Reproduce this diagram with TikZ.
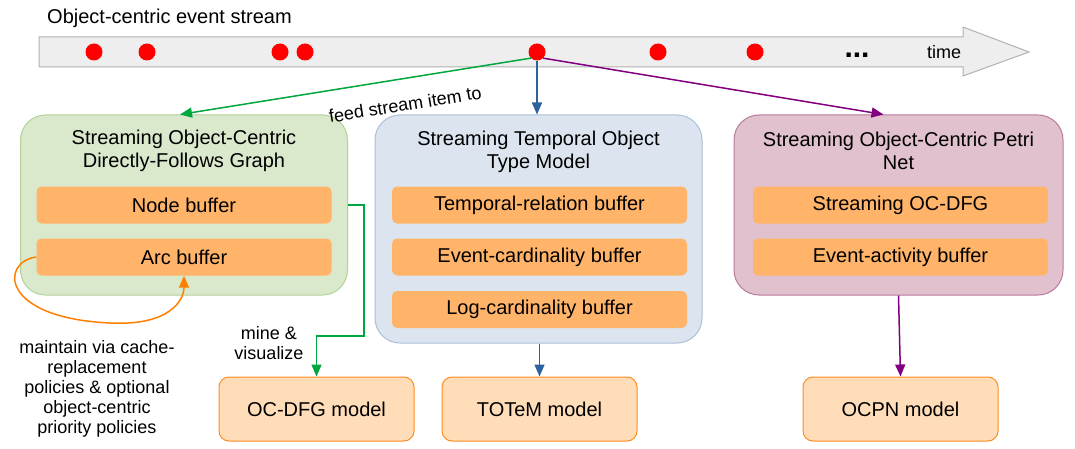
\documentclass[tikz,border=0pt]{standalone}
\usepackage{fontspec}
\setmainfont{Liberation Sans}
\usetikzlibrary{arrows.meta}

\definecolor{streamfill}{RGB}{238,238,238}
\definecolor{streamedge}{RGB}{178,178,178}
\definecolor{dfgfill}{RGB}{218,232,204}
\definecolor{dfgedge}{RGB}{178,210,150}
\definecolor{totfill}{RGB}{220,229,239}
\definecolor{totedge}{RGB}{170,192,216}
\definecolor{pnfill}{RGB}{224,193,205}
\definecolor{pnedge}{RGB}{185,122,158}
\definecolor{bufferorange}{RGB}{255,180,105}
\definecolor{modelfill}{RGB}{255,221,185}
\definecolor{modeledge}{RGB}{255,140,30}
\definecolor{feedgreen}{RGB}{0,166,62}
\definecolor{feedblue}{RGB}{45,98,158}
\definecolor{feedpurple}{RGB}{128,0,128}
\definecolor{loopcol}{RGB}{255,128,0}

\tikzstyle{group} = [draw, rounded corners=25pt, line width=1pt, minimum width=327pt]
\tikzstyle{title} = [align=center, font=\fontsize{20}{23}\selectfont]
\tikzstyle{buffer} = [fill=bufferorange, rounded corners=5pt, minimum width=295pt, minimum height=37pt, inner sep=0pt, font=\fontsize{20}{23}\selectfont]
\tikzstyle{model} = [draw=modeledge, fill=modelfill, rounded corners=10pt, line width=1pt, minimum width=195pt, minimum height=64pt, font=\fontsize{20}{23}\selectfont]
\tikzstyle{event} = [circle, fill=red, inner sep=0pt, minimum size=17pt]
\tikzstyle{note} = [align=center, font=\fontsize{18}{20}\selectfont]
\tikzstyle{flow} = [line width=1.5pt, -{Triangle[length=12pt,width=10pt]}]

\begin{document}
\begin{tikzpicture}[x=1pt, y=-1pt]
  \useasboundingbox [fill=white] (0,0) rectangle (1075,449);

  % event stream
  \node (streamtitle) at (47,24) [anchor=base west, inner sep=0pt, font=\fontsize{20}{23}\selectfont] {Object-centric event stream};
  \draw [fill=streamfill, draw=streamedge, line width=1pt]
    (39,37) -- (963,37) -- (963,27) -- (1029,52) -- (963,76) -- (963,67) -- (39,67) -- cycle;
  \node (e1) at ( 94,52) [event] {};
  \node (e2) at (147,52) [event] {};
  \node (e3) at (280,52) [event] {};
  \node (e4) at (305,52) [event] {};
  \node (e5) at (537,52) [event] {};
  \node (e6) at (658,52) [event] {};
  \node (e7) at (755,52) [event] {};
  \node (dots) at (857,58) [anchor=base, inner sep=0pt, font=\fontsize{30}{30}\selectfont] {\textbf{...}};
  \node (time) at (944,59) [anchor=base, inner sep=0pt, font=\fontsize{18}{20}\selectfont] {time};

  % streaming representations
  \node (dfg) at (184,205) [group, draw=dfgedge, fill=dfgfill, minimum height=180pt] {};
  \node (tot) at (538.5,229) [group, draw=totedge, fill=totfill, minimum height=228pt] {};
  \node (pn) at (898.5,205) [group, draw=pnedge, fill=pnfill, minimum width=329pt, minimum height=180pt] {};

  \node (dfgtitle) at (184,151) [title] {Streaming Object-Centric\\Directly-Follows Graph};
  \node (tottitle) at (538.5,152) [title] {Streaming Temporal Object\\Type Model};
  \node (pntitle) at (898.5,151) [title] {Streaming Object-Centric Petri\\Net};

  \node (nodebuf) at (184,205) [buffer] {Node buffer};
  \node (arcbuf) at (184,257) [buffer] {Arc buffer};
  \node (relbuf) at (539.5,205) [buffer] {Temporal-relation buffer};
  \node (evcard) at (539.5,257) [buffer] {Event-cardinality buffer};
  \node (logcard) at (539.5,309.5) [buffer] {Log-cardinality buffer};
  \node (sdfg) at (900.5,205) [buffer] {Streaming OC-DFG};
  \node (evact) at (900.5,257) [buffer] {Event-activity buffer};

  % models
  \node (ocdfg) at (316.5,409) [model] {OC-DFG model};
  \node (totem) at (539.5,409) [model] {TOTeM model};
  \node (ocpn) at (900.5,409) [model] {OCPN model};

  % connectors
  \draw [flow, feedgreen] (e5.south west) to node [pos=0.37, sloped, below=15pt, note, text=black] {feed stream item to} ([xshift=-4pt]dfg.north);
  \draw [flow, feedblue] (e5.south) to (e5.south |- tot.north);
  \draw [flow, feedpurple] (e5.south east) to ([xshift=-15pt]pn.north);

  \draw [flow, feedgreen] (dfg.east |- nodebuf.east) -- ++(16,0) -- ++(0,131) -| (ocdfg.north);
  \node (mine) at (269,343) [note] {mine \&\\visualize};

  \draw [flow, feedblue] (tot.south -| totem.north) to (totem.north);
  \draw [flow, feedpurple] (pn.south) to (ocpn.north);

  \draw [flow, loopcol] (arcbuf.west) .. controls (0,262) and (0,318) .. (110,323)
    .. controls (170,326) and (184,300) .. (arcbuf.south);
  \node (maintain) at (97,389) [note] {maintain via cache-\\replacement\\policies \& optional\\object-centric\\priority policies};
\end{tikzpicture}
\end{document}
